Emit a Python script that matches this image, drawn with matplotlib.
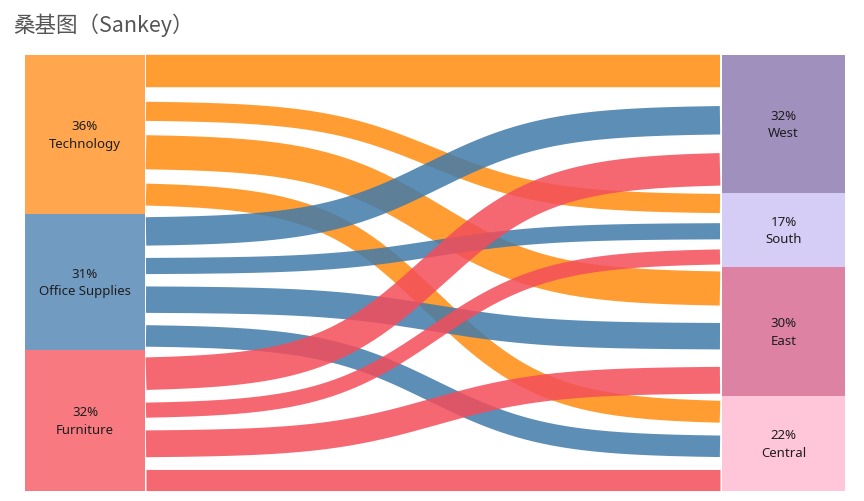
import numpy as np
import matplotlib.pyplot as plt
from matplotlib.patches import Rectangle

# Superstore sales, category x region
categories = ['Technology', 'Office Supplies', 'Furniture']
regions = ['West', 'South', 'East', 'Central']
sales_technology = [251991.83, 148771.91, 264973.98, 170416.31]
sales_office = [220853.25, 125651.31, 205516.05, 167026.42]
sales_furniture = [252612.74, 117298.68, 208291.20, 163797.16]

link_colors = ['#FF8C0E', '#417AAA', '#F44D59']
category_colors = ['#FFA64F', '#729BC2', '#F87A80']
region_colors = ['#9F90BE', '#D5CDF5', '#DE82A3', '#FFC6DA']

TOP, BOTTOM = 56, 492
BAND_FRAC = 0.678   # share of column height taken by link bands
LX0, LX1 = 25, 145  # left nodes
RX0, RX1 = 722, 845  # right nodes
X_START, X_END = 146, 720


def stack(node_vals, grand):
    """node_vals: list of lists (links per node). Returns node spans and link centers/widths."""
    H = BOTTOM - TOP
    spans, centers, widths = [], [], []
    y = TOP
    n = len(node_vals)
    for i, vals in enumerate(node_vals):
        h = sum(vals) / grand * H
        w = [v / grand * H * BAND_FRAC for v in vals]
        rest = h - sum(w)
        gap = rest * 0.84 / (len(vals) - 1)
        cur = y + rest * 0.16 * i / (n - 1)
        c = []
        for wi in w:
            c.append(cur + wi / 2)
            cur += wi + gap
        spans.append((y, h))
        centers.append(c)
        widths.append(w)
        y += h
    return spans, centers, widths


def sigmoid(t, k=5.0):
    s = 1 / (1 + np.exp(-2 * k * (t - 0.5)))
    s0 = 1 / (1 + np.exp(k))
    return (s - s0) / (1 - 2 * s0)


def main():
    table = np.array([sales_technology, sales_office, sales_furniture])
    grand = table.sum()

    left_spans, left_c, left_w = stack([list(r) for r in table], grand)
    right_spans, right_c, _ = stack([list(table[:, j]) for j in range(len(regions))], grand)

    fig = plt.figure(figsize=(8.64, 5.02), dpi=100)
    ax = fig.add_axes([0, 0, 1, 1])
    ax.set_xlim(0, 864)
    ax.set_ylim(502, 0)
    ax.axis('off')

    # nodes
    for i, (top, h) in enumerate(left_spans):
        ax.add_patch(Rectangle((LX0, top), LX1 - LX0, h, color=category_colors[i], lw=0))
        pct = round(table[i].sum() / grand * 100)
        ax.text((LX0 + LX1) / 2, top + h / 2, f'{pct}%\n{categories[i]}', ha='center', va='center',
                fontsize=9.5, family='Noto Sans', color='#1e1e1e', linespacing=1.45)
    for j, (top, h) in enumerate(right_spans):
        ax.add_patch(Rectangle((RX0, top), RX1 - RX0, h, color=region_colors[j], lw=0))
        pct = round(table[:, j].sum() / grand * 100)
        ax.text((RX0 + RX1) / 2, top + h / 2, f'{pct}%\n{regions[j]}', ha='center', va='center',
                fontsize=9.5, family='Noto Sans', color='#1e1e1e', linespacing=1.45)

    # links
    x = np.linspace(X_START, X_END, 400)
    s = sigmoid((x - X_START) / (X_END - X_START))
    for i in range(len(categories)):
        for j in range(len(regions)):
            y0 = left_c[i][j]
            y1 = right_c[j][i]
            w = left_w[i][j]
            ax.plot(x, y0 + (y1 - y0) * s, color=link_colors[i], lw=w * 0.72,
                    alpha=0.85, solid_capstyle='butt')

    ax.text(13, 25, '桑基图（Sankey）', ha='left', va='center', fontsize=15.5,
            family=['Noto Sans CJK SC', 'DejaVu Sans'], color='#555555')

    fig.savefig('out.png', dpi=100)


if __name__ == "__main__":
    main()
